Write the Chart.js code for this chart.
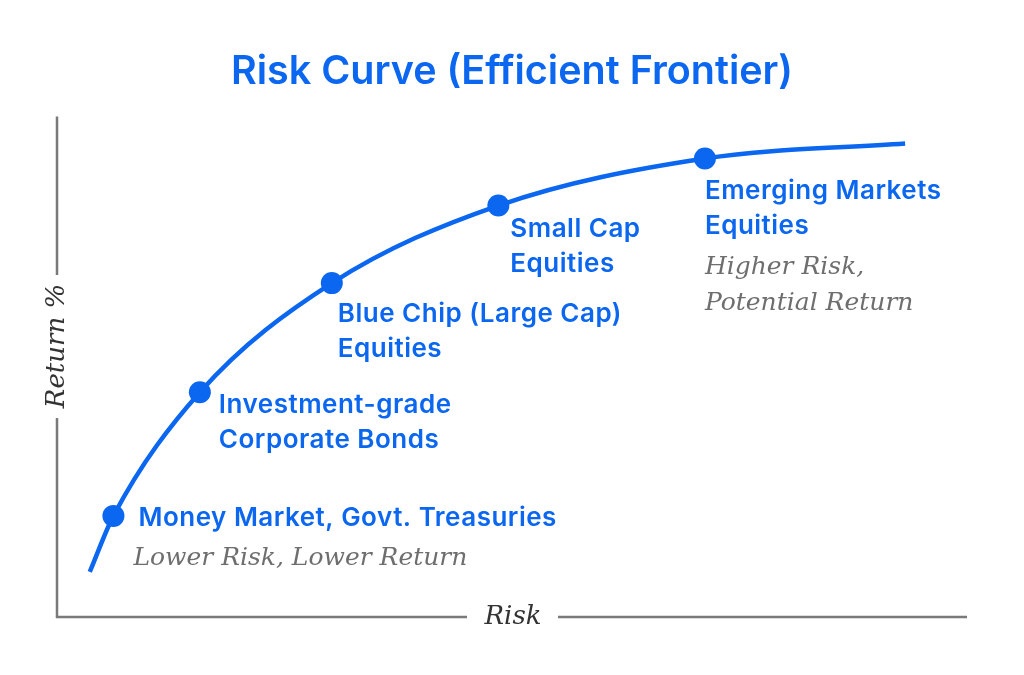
<!DOCTYPE html>
<html>
<head>
<meta charset="utf-8">
<script src="https://cdn.jsdelivr.net/npm/chart.js@4/dist/chart.umd.min.js"></script>
<style>
  html, body { margin: 0; padding: 0; background: #fff; }
  #wrap { width: 1024px; height: 675px; position: relative; }
</style>
</head>
<body>
<div id="wrap"><canvas id="chart" width="1024" height="675"></canvas></div>
<script>
// Data (risk / return, arbitrary 0-100 units)
const assetNames = ['', 'Money Market, Govt. Treasuries', 'Investment-grade\nCorporate Bonds',
    'Blue Chip (Large Cap)\nEquities', 'Small Cap\nEquities', 'Emerging Markets\nEquities', ''];
const riskValues = [3.6, 6.2, 15.7, 30.2, 48.5, 71.2, 93.2];
const returnValues = [9.0, 20.2, 44.9, 66.7, 82.2, 91.6, 94.6];
const notes = ['', 'Lower Risk, Lower Return', '', '', '', 'Higher Risk,\nPotential Return', ''];

const BLUE = '#0b67f0';
const GREY = '#6e6e6e';
const AXIS = '#7a7a7a';

const SANS = '"Inter", "Noto Sans", sans-serif';
const SERIF = '"DejaVu Serif", "Liberation Serif", serif';

// where each label sits relative to its dot
const labelOffsets = [null, [25, 2], [19, 13], [6, 31], [12, 24], [0, 33], null];

const axisPlugin = {
    id: 'gappedAxes',
    afterDraw(chart) {
        const ctx = chart.ctx;
        const { left, right, top, bottom } = chart.chartArea;
        ctx.save();
        ctx.strokeStyle = AXIS;
        ctx.lineWidth = 2.5;
        ctx.lineCap = 'butt';

        // x axis with gap for "Risk"
        ctx.beginPath();
        ctx.moveTo(left - 1, bottom);
        ctx.lineTo(467, bottom);
        ctx.moveTo(558, bottom);
        ctx.lineTo(right, bottom);
        // y axis with gap for "Return %"
        ctx.moveTo(left, top);
        ctx.lineTo(left, 275);
        ctx.moveTo(left, 418);
        ctx.lineTo(left, bottom + 1);
        ctx.stroke();

        ctx.fillStyle = '#333';
        ctx.font = 'italic 26px ' + SERIF;
        ctx.textAlign = 'center';
        ctx.textBaseline = 'middle';
        ctx.fillText('Risk', 513, bottom);
        ctx.translate(left, 346);
        ctx.rotate(-Math.PI / 2);
        ctx.fillText('Return %', 0, 0);
        ctx.restore();
    }
};

const labelPlugin = {
    id: 'pointLabels',
    afterDatasetsDraw(chart) {
        const ctx = chart.ctx;
        const xs = chart.scales.x, ys = chart.scales.y;
        ctx.save();
        ctx.textAlign = 'left';
        ctx.textBaseline = 'middle';
        assetNames.forEach((name, i) => {
            if (!name) return;
            const px = xs.getPixelForValue(riskValues[i]) + labelOffsets[i][0];
            let py = ys.getPixelForValue(returnValues[i]) + labelOffsets[i][1];
            ctx.fillStyle = BLUE;
            ctx.font = '600 26px ' + SANS;
            ctx.letterSpacing = '0.5px';
            name.split('\n').forEach(line => {
                ctx.fillText(line, px, py);
                py += 35;
            });
            ctx.letterSpacing = '0px';
            if (notes[i]) {
                py += 6;
                ctx.fillStyle = GREY;
                ctx.font = 'italic 25px ' + SERIF;
                notes[i].split('\n').forEach(line => {
                    ctx.fillText(line, px - (i === 1 ? 5 : 0), py);
                    py += 36;
                });
            }
        });
        ctx.restore();
    }
};

new Chart(document.getElementById('chart'), {
    type: 'line',
    data: {
        datasets: [{
            data: riskValues.map((r, i) => ({ x: r, y: returnValues[i] })),
            borderColor: BLUE,
            backgroundColor: BLUE,
            borderWidth: 4.5,
            pointRadius: assetNames.map(n => n ? 11 : 0),
            pointHoverRadius: assetNames.map(n => n ? 11 : 0),
            pointBorderWidth: 0,
            cubicInterpolationMode: 'monotone',
            fill: false
        }]
    },
    options: {
        responsive: false,
        animation: false,
        devicePixelRatio: 1,
        layout: { padding: { left: 57, right: 57, top: 0, bottom: 58 } },
        plugins: {
            legend: { display: false },
            tooltip: { enabled: false },
            title: {
                display: true,
                text: 'Risk Curve (Efficient Frontier)',
                color: BLUE,
                font: { family: SANS, size: 39.5, weight: '600' },
                padding: { top: 48, bottom: 21 }
            }
        },
        scales: {
            x: { type: 'linear', min: 0, max: 100, display: false },
            y: { type: 'linear', min: 0, max: 100, display: false }
        }
    },
    plugins: [axisPlugin, labelPlugin]
});
</script>
</body>
</html>
